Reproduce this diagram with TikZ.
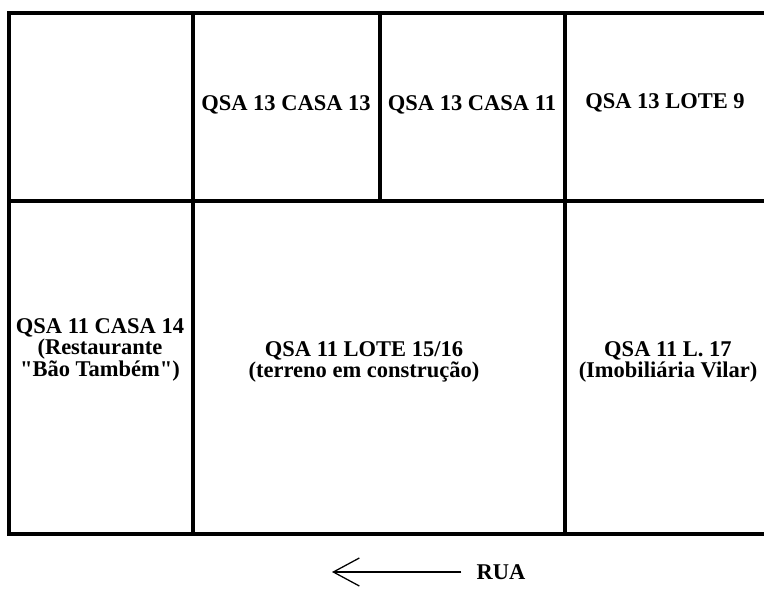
\documentclass[tikz,border=0pt]{standalone}
\usepackage{fontspec}
\setmainfont{Liberation Serif}
\usetikzlibrary{arrows.meta,positioning}

\begin{document}
\begin{tikzpicture}[x=0.025cm, y=-0.025cm,
					wall/.style={line width=2.2pt, line join=miter},
					lot/.style={align=center, font=\bfseries\fontsize{16}{13.5}\selectfont, inner sep=0pt},
					arrow/.style={-{Straight Barb[length=6.5mm, width=7mm]}, line width=0.9pt}]
					\useasboundingbox (0,0) rectangle (764,599);
					% quadras
					\draw[wall] (764,13) -- (9,13) -- (9,534) -- (764,534);
					\draw[wall] (9,201) -- (764,201);
					\draw[wall] (193,13) -- (193,534);
					\draw[wall] (380,13) -- (380,201);
					\draw[wall] (565,13) -- (565,534);
					
					\node[lot] (casa13) at (286,105) {QSA 13 CASA 13};
					\node[lot] (casa11) at (472,105) {QSA 13 CASA 11};
					\node[lot] (lote9) at (665,103) {QSA 13 LOTE 9};
					\node[lot] (casa14) at (100,350) {QSA 11 CASA 14\\(Restaurante\\\textquotedbl Bão Também\textquotedbl)};
					\node[lot] (lote1516) at (364,362) {QSA 11 LOTE 15/16\\(terreno em construção)};
					\node[lot] (lote17) at (668,362) {QSA 11 L. 17\\(Imobiliária Vilar)};
					
					% rua
					\node[lot, inner xsep=3.75mm] (rua) at (501,572) {RUA};
					\coordinate (ruatip) at (332,572);
					\draw[arrow] (rua.west) -- (ruatip);
				\end{tikzpicture}
\end{document}
